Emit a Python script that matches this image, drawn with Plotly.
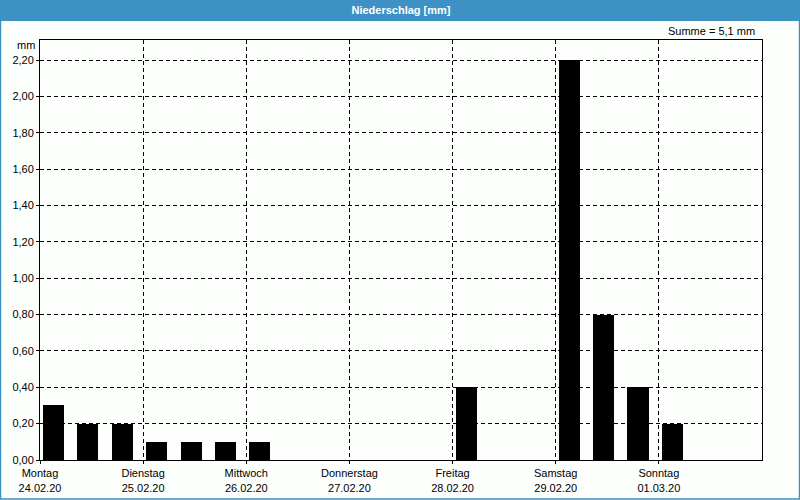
import plotly.graph_objects as go

# 8-hour periods, Monday 24.02.20 00:00 .. Sunday 01.03.20 24:00 (hours since start)
period_start_h = [0, 8, 16, 24, 32, 40, 48, 56, 64, 72, 80, 88, 96, 104, 112, 120, 128, 136, 144, 152, 160]
precip_mm = [0.3, 0.2, 0.2, 0.1, 0.1, 0.1, 0.1, 0, 0, 0, 0, 0, 0.4, 0, 0, 2.2, 0.8, 0.4, 0.2, 0, 0]

day_start_h = [0, 24, 48, 72, 96, 120, 144]
day_names = ["Montag", "Dienstag", "Mittwoch", "Donnerstag", "Freitag", "Samstag", "Sonntag"]
day_dates = ["24.02.20", "25.02.20", "26.02.20", "27.02.20", "28.02.20", "29.02.20", "01.03.20"]
y_ticks = [0.0, 0.2, 0.4, 0.6, 0.8, 1.0, 1.2, 1.4, 1.6, 1.8, 2.0, 2.2]
total_text = "Summe = 5,1 mm"

W, H = 800, 500
L, R, T, B = 40, 38, 40, 40
PW, PH = W - L - R, H - T - B
BLUE = "#3d91c4"
FONT = "Liberation Sans"

def px_x(p):
    return (p - L) / PW

def px_y(p):
    return (H - B - p) / PH

fig = go.Figure()
fig.add_trace(go.Bar(
    x=period_start_h, y=precip_mm,
    offset=0.7, width=4.9,
    marker=dict(color="#000000", line=dict(width=0)),
    hoverinfo="skip", showlegend=False,
))
# invisible trace for second x axis (date labels)
fig.add_trace(go.Scatter(x=[0], y=[0], xaxis="x2", mode="markers",
                         marker=dict(opacity=0), showlegend=False, hoverinfo="skip"))

grid_dash = "4px,3px"
fig.update_layout(
    width=W, height=H,
    margin=dict(l=L, r=R, t=T, b=B, pad=0, autoexpand=False),
    paper_bgcolor="#fcfffc", plot_bgcolor="#fcfffc",
    separators=",.",
    font=dict(family=FONT, size=11, color="#000000"),
    title=dict(text="<b>Niederschlag [mm]</b>", x=0.5, xref="paper", y=1 - 10 / H,
               yref="container", xanchor="center", yanchor="middle",
               font=dict(family=FONT, size=11, color="#ffffff")),
    xaxis=dict(range=[0, 168], tickmode="array", tickvals=day_start_h, ticktext=day_names,
               showgrid=True, gridcolor="#000000", gridwidth=1, griddash=grid_dash,
               showline=True, linecolor="#000000", linewidth=1, mirror=True,
               ticks="outside", ticklen=3, tickcolor="#000000", zeroline=False,
               automargin=False, tickfont=dict(size=11)),
    xaxis2=dict(range=[0, 168], overlaying="x", anchor="y", side="bottom",
                tickmode="array", tickvals=day_start_h, ticktext=day_dates,
                showgrid=False, showline=False, ticks="", zeroline=False,
                automargin=False, ticklabelstandoff=20, tickfont=dict(size=11)),
    yaxis=dict(range=[0, 2.2 + 20 / (400 / 2.2)], tickmode="array", tickvals=y_ticks,
               tickformat=".2f",
               showgrid=True, gridcolor="#000000", gridwidth=1, griddash=grid_dash,
               showline=True, linecolor="#000000", linewidth=1, mirror=True,
               ticks="outside", ticklen=3, tickcolor="#000000", zeroline=False,
               automargin=False, tickfont=dict(size=11)),
    bargap=0,
)

# title bar and outer border
fig.add_shape(type="rect", xref="paper", yref="paper", layer="below",
              x0=px_x(0), x1=px_x(W), y0=px_y(21), y1=px_y(0),
              fillcolor=BLUE, line=dict(width=0))
fig.add_shape(type="rect", xref="paper", yref="paper",
              x0=px_x(0.5), x1=px_x(W - 0.5), y0=px_y(H - 1), y1=px_y(0.5),
              fillcolor="rgba(0,0,0,0)", line=dict(color=BLUE, width=1.5))

fig.add_annotation(text=total_text, xref="paper", yref="paper", x=px_x(757), y=px_y(31),
                   xanchor="right", yanchor="middle", showarrow=False,
                   font=dict(family=FONT, size=11, color="#000000"))
fig.add_annotation(text="mm", xref="paper", yref="paper", x=px_x(37), y=px_y(45),
                   xanchor="right", yanchor="middle", showarrow=False,
                   font=dict(family=FONT, size=11, color="#000000"))

fig.write_html("out.html")
